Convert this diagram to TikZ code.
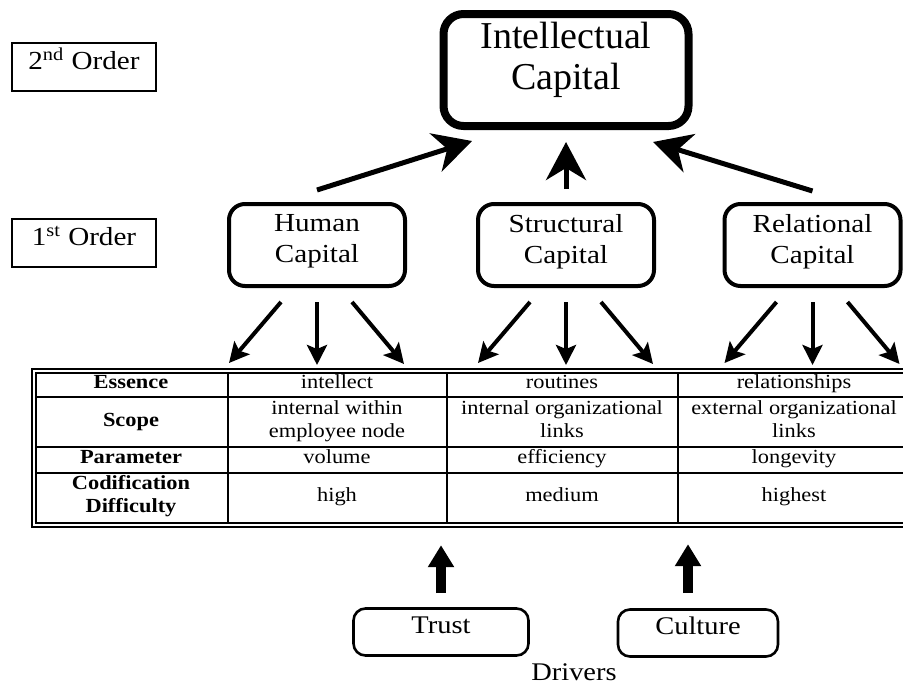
\documentclass[tikz,border=0pt]{standalone}
\usepackage{fontspec}
\setmainfont{Liberation Serif}[FakeStretch=1.12]
\newfontfamily\icfont{Liberation Serif}
\usetikzlibrary{arrows.meta}
\tikzset{
  orderbox/.style={draw,line width=1.2pt,minimum width=72pt,minimum height=24pt,inner sep=0pt,text height=9pt,text depth=6.5pt,font=\fontsize{13}{15.5}\selectfont},
  capbox/.style={draw,line width=2pt,rounded corners=8pt,minimum width=88pt,minimum height=41pt,inner sep=0pt},
  captext/.style={align=center,inner sep=0pt,yshift=1.8pt,font=\fontsize{13}{15.5}\selectfont},
  topbox/.style={draw,line width=4pt,rounded corners=10pt,minimum width=122.5pt,minimum height=56pt,inner sep=0pt},
  toptext/.style={align=center,inner sep=0pt,yshift=5pt,font=\icfont\fontsize{19}{20.5}\selectfont},
  drvbox/.style={draw,line width=1.3pt,rounded corners=6pt,minimum height=23.5pt,inner sep=0pt,text height=9pt,text depth=8pt,font=\fontsize{12.7}{15}\selectfont},
  upto/.style={line width=2.5pt,-{Stealth[length=19pt,width=20pt,inset=6pt]}},
  downto/.style={line width=2pt,-{Stealth[length=10pt,width=10pt,inset=2pt]}},
  push/.style={line width=5pt,-{Triangle[length=11pt,width=12.5pt]}},
  hdr/.style={font=\fontsize{10}{11.5}\selectfont\bfseries,inner sep=0pt,text height=6.8pt,text depth=2.2pt},
  hdrtwo/.style={font=\fontsize{10}{11.5}\selectfont\bfseries,align=center,inner sep=0pt,execute at end node=\strut},
  cell/.style={font=\fontsize{10}{11.5}\selectfont,inner sep=0pt,text height=6.8pt,text depth=2.2pt},
  celltwo/.style={font=\fontsize{10}{11.5}\selectfont,align=center,inner sep=0pt,execute at end node=\strut},
}
\begin{document}
\begin{tikzpicture}[x=0.5pt,y=-0.5pt]
\useasboundingbox (0,0) rectangle (903,686);
% levels
\node[orderbox] (ord2) at (84,67) {2\textsuperscript{nd} Order};
\node[orderbox] (ord1) at (84,243) {1\textsuperscript{st} Order};
% capital boxes
\node[topbox,label={[toptext]center:Intellectual\\Capital}] (ic) at (566,70) {};
\node[capbox,label={[captext]center:Human\\Capital}] (human) at (317,245) {};
\node[capbox,label={[captext]center:Structural\\Capital}] (struct) at (566,245) {};
\node[capbox,label={[captext]center:Relational\\Capital}] (relat) at (812.5,245) {};
\draw[upto] ([yshift=6pt]human.north) -- ([xshift=-47pt,yshift=-5.5pt]ic.south);
\draw[upto] ([yshift=6.5pt]struct.north) -- ([yshift=-6pt]ic.south);
\draw[upto] ([yshift=5.5pt]relat.north) -- ([xshift=43.5pt,yshift=-6pt]ic.south);
\foreach \b in {human,struct,relat}{
  \draw[downto] ([xshift=-18pt,yshift=-7pt]\b.south) -- ++(-26pt,-30.5pt);
  \draw[downto] ([yshift=-7pt]\b.south) -- ++(0pt,-31.5pt);
  \draw[downto] ([xshift=17.5pt,yshift=-7pt]\b.south) -- ++(26pt,-31pt);
}
% table
\draw[line width=1pt] (903,369) -| (32,527) -- (903,527);
\draw[line width=0.7pt] (903,373) -| (36,523) -- (903,523);
\foreach \y in {397,447,473} \draw[line width=0.8pt] (36,\y) -- (903,\y);
\foreach \x in {228,447,678} \draw[line width=0.8pt] (\x,373) -- (\x,523);
\node[hdr] (essL) at (131,384) {Essence};
\node[hdr] (scoL) at (131,422) {Scope};
\node[hdr] (parL) at (131,459) {Parameter};
\node[hdrtwo] (codL) at (131,497) {Codification\\Difficulty};
\node[cell] (essH) at (337,384) {intellect};
\node[cell] (essS) at (562,384) {routines};
\node[cell] (essR) at (794,384) {relationships};
\node[celltwo] (scoH) at (337,423) {internal within\\employee node};
\node[celltwo] (scoS) at (562,423) {internal organizational\\links};
\node[celltwo] (scoR) at (794,423) {external organizational\\links};
\node[cell] (parH) at (337,459) {volume};
\node[cell] (parS) at (562,459) {efficiency};
\node[cell] (parR) at (794,459) {longevity};
\node[cell] (codH) at (337,497) {high};
\node[cell] (codS) at (562,497) {medium};
\node[cell] (codR) at (794,497) {highest};
% drivers
\node[drvbox,minimum width=87.5pt] (trust) at (441,632) {Trust};
\node[drvbox,minimum width=80pt] (culture) at (698,633) {Culture};
\node[font=\fontsize{12.7}{15}\selectfont] (drivers) at (574,672) {Drivers};
\draw[push] ([yshift=7pt]trust.north) -- ++(0pt,24pt);
\draw[push] ([xshift=-5pt,yshift=7.5pt]culture.north) -- ++(0pt,24.5pt);
\end{tikzpicture}
\end{document}
